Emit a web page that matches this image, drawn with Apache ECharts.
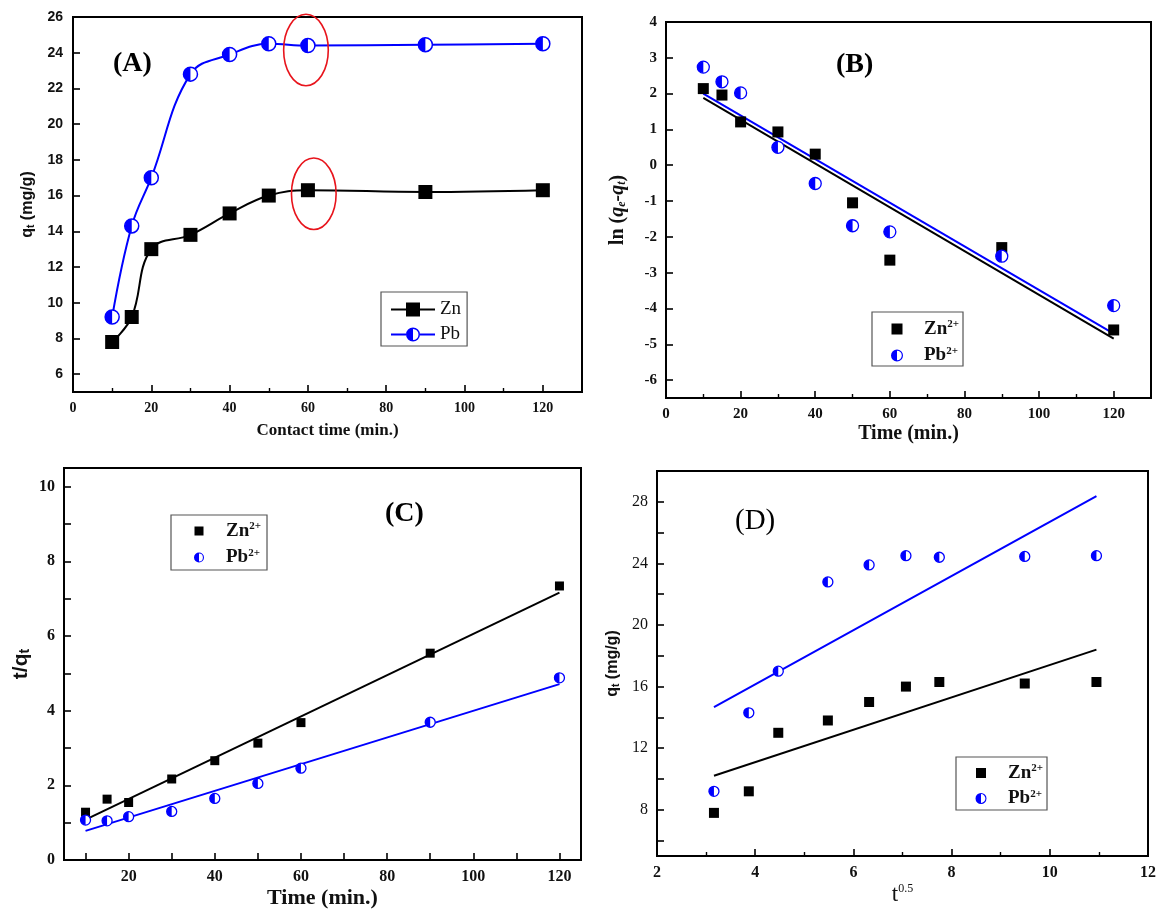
<!DOCTYPE html>
<html>
<head>
<meta charset="utf-8">
<script src="https://cdn.jsdelivr.net/npm/echarts@6/dist/echarts.min.js"></script>
<style>
html, body { margin: 0; padding: 0; background: #fff; }
#chart { width: 1164px; height: 918px; }
</style>
</head>
<body>
<div id="chart"></div>
<script>
// contact time (min) and its square root
var time = [10, 15, 20, 30, 40, 50, 60, 90, 120];
var sqrtTime = [3.16, 3.87, 4.47, 5.48, 6.32, 7.07, 7.75, 9.49, 10.95];

// (A) / (D) adsorbed amount q_t (mg/g)
var qtZn = [7.8, 9.2, 13.0, 13.8, 15.0, 16.0, 16.3, 16.2, 16.3];
var qtPb = [9.2, 14.3, 17.0, 22.8, 23.9, 24.5, 24.4, 24.45, 24.5];

// (B) ln(qe - qt)
var lnZn = [2.14, 1.96, 1.21, 0.93, 0.31, -1.05, -2.65, -2.3, -4.6];
var lnPb = [2.74, 2.33, 2.02, 0.5, -0.51, -1.69, -1.86, -2.54, -3.92];
var fitB_Zn = [[10, 1.88], [120, -4.84]];
var fitB_Pb = [[10, 2.0], [120, -4.7]];

// (C) t/qt
var tqZn = [1.28, 1.63, 1.54, 2.17, 2.66, 3.13, 3.68, 5.54, 7.34];
var tqPb = [1.07, 1.05, 1.16, 1.3, 1.65, 2.05, 2.46, 3.69, 4.88];
var fitC_Zn = [[10, 1.08], [120, 7.16]];
var fitC_Pb = [[10, 0.78], [120, 4.71]];

// (D) intraparticle diffusion fits
var fitD_Zn = [[3.16, 10.21], [10.95, 18.4]];
var fitD_Pb = [[3.16, 14.66], [10.95, 28.37]];

// red ellipses in (A): centre x, centre y, half width, half height
var circlesA = [[59.5, 24.15, 5.7, 2.0], [61.5, 16.1, 5.7, 2.0]];

// tick lists
var ticksAy = [6, 8, 10, 12, 14, 16, 18, 20, 22, 24, 26];
var ticksBy = [-6, -5, -4, -3, -2, -1, 0, 1, 2, 3, 4];
var ticksCx = [10, 20, 30, 40, 50, 60, 70, 80, 90, 100, 110, 120];
var labelsCx = [20, 40, 60, 80, 100, 120];
var ticksCy = [1, 2, 3, 4, 5, 6, 7, 8, 9, 10];
var labelsCy = [0, 2, 4, 6, 8, 10];
var ticksDy = [6, 8, 10, 12, 14, 16, 18, 20, 22, 24, 26, 28];
var labelsDy = [8, 12, 16, 20, 24, 28];

var BLUE = '#0000ff';
var SERIF = 'Liberation Serif';
var SANS = 'Liberation Sans';

function zip(xs, ys) {
    var out = [];
    for (var i = 0; i < xs.length; i++) out.push([xs[i], ys[i]]);
    return out;
}

// left-half filled disk for the Pb markers
var halfPath = 'path://M10,0 A10,10 0 0 0 10,20 Z';

// legend icons: the box corners are marked with empty sub-paths so the
// icon keeps the full item width and the marker sits in its middle
function corners(w, h) {
    return 'M0,0 L0,0 Z M' + w + ',' + h + ' L' + w + ',' + h + ' Z ';
}
function sqIcon(w, h, s) {
    var x = (w - s) / 2, y = (h - s) / 2;
    return 'path://' + corners(w, h) +
        'M' + x + ',' + y + ' h' + s + ' v' + s + ' h' + (-s) + ' Z';
}
function ringHalfBody(cx, cy, R, t) {
    var r = R - t;
    return 'M' + cx + ',' + (cy - R) + ' A' + R + ',' + R + ' 0 1 1 ' + cx + ',' + (cy + R) +
        ' A' + R + ',' + R + ' 0 1 1 ' + cx + ',' + (cy - R) + ' Z ' +
        'M' + cx + ',' + (cy - r) + ' A' + r + ',' + r + ' 0 1 0 ' + cx + ',' + (cy + r) +
        ' A' + r + ',' + r + ' 0 1 0 ' + cx + ',' + (cy - r) + ' Z ' +
        'M' + cx + ',' + (cy - r) + ' A' + r + ',' + r + ' 0 0 0 ' + cx + ',' + (cy + r) + ' Z ';
}
function ringIcon(w, h, R, t) {
    return 'path://' + corners(w, h) + ringHalfBody(w / 2, h / 2, R, t);
}
// (A): line + marker
var lineSquare = 'path://M0,6 H15 V8 H0 Z M15,0 H29 V14 H15 Z M29,6 H44 V8 H29 Z';
var lineRingHalf = 'path://M0,6 H15 V8 H0 Z M29,6 H44 V8 H29 Z ' + ringHalfBody(22, 7, 7, 1.5);

function axis(o) {
    var a = {
        type: 'value',
        gridIndex: o.grid,
        min: o.min,
        max: o.max,
        name: o.name,
        nameLocation: 'middle',
        nameGap: o.nameGap,
        nameTextStyle: o.nameStyle,
        axisLine: { show: true, onZero: false, lineStyle: { color: '#000', width: 2 } },
        axisTick: { inside: true, length: 7, lineStyle: { color: '#000', width: 1.6 } },
        minorTick: { show: !!o.minor, splitNumber: 2, length: 4, lineStyle: { color: '#000', width: 1.4 } },
        splitLine: { show: false },
        axisLabel: {
            margin: o.margin || 9,
            color: '#111',
            fontFamily: o.labelFont || SERIF,
            fontWeight: o.labelWeight || 'bold',
            fontSize: o.labelSize || 14,
            showMaxLabel: o.showMax !== undefined ? o.showMax : true
        }
    };
    if (o.interval) a.interval = o.interval;
    if (o.ticks) a.axisTick.customValues = o.ticks;
    if (o.labels) a.axisLabel.customValues = o.labels;
    return a;
}

function legendBox(o) {
    return {
        left: o.left, top: o.top,
        orient: 'vertical',
        selectedMode: false,
        itemWidth: o.itemWidth, itemHeight: o.itemHeight,
        itemGap: o.itemGap,
        padding: o.padding,
        borderColor: '#555', borderWidth: 1.2,
        itemStyle: { borderWidth: 0, opacity: 1 },
        data: o.data,
        formatter: o.formatter,
        textStyle: {
            color: '#111',
            rich: {
                b: { fontFamily: SERIF, fontWeight: 'bold', fontSize: 19, lineHeight: 20 },
                s: { fontFamily: SERIF, fontWeight: 'bold', fontSize: 11, verticalAlign: 'top', lineHeight: 20 },
                r: { fontFamily: SERIF, fontSize: 19, lineHeight: 18 }
            }
        }
    };
}

function ionLabel(name) {
    return '{b|' + name.slice(0, 2) + '}{s|2+}';
}

function zn(name, grid, data, size) {
    return {
        name: name, type: 'scatter', xAxisIndex: grid, yAxisIndex: grid,
        data: data, symbol: 'rect', symbolSize: size,
        itemStyle: { color: '#000', opacity: 1 }, z: 4, silent: true
    };
}

function pbRing(name, grid, data, size) {
    return {
        name: name, type: 'scatter', xAxisIndex: grid, yAxisIndex: grid,
        data: data, symbol: 'circle', symbolSize: size,
        itemStyle: { color: '#fff', borderColor: BLUE, borderWidth: 1.3, opacity: 1 }, z: 4, silent: true
    };
}

function pbHalf(grid, data, size) {
    return {
        type: 'scatter', xAxisIndex: grid, yAxisIndex: grid,
        data: data, symbol: halfPath, symbolSize: [size / 2, size],
        symbolOffset: [-size / 4, 0], symbolKeepAspect: false,
        itemStyle: { color: BLUE, opacity: 1 }, z: 5, silent: true
    };
}

function fit(grid, data, color) {
    return {
        type: 'line', xAxisIndex: grid, yAxisIndex: grid,
        data: data, symbol: 'none', silent: true, z: 3,
        lineStyle: { color: color, width: 2 }
    };
}

var qName = {
    fontFamily: SANS, fontWeight: 'bold', fontSize: 16, color: '#111',
    rich: {
        q: { fontFamily: SANS, fontWeight: 'bold', fontSize: 16 },
        t: { fontFamily: SANS, fontWeight: 'bold', fontSize: 10, verticalAlign: 'bottom' }
    }
};

var myChart = echarts.init(document.getElementById('chart'));
myChart.setOption({
    animation: false,
    backgroundColor: '#fff',
    title: [
        { text: '(A)', left: 113, top: 50, padding: 0, textStyle: { fontFamily: SERIF, fontWeight: 'bold', fontSize: 28, color: '#000' } },
        { text: '(B)', left: 836, top: 51, padding: 0, textStyle: { fontFamily: SERIF, fontWeight: 'bold', fontSize: 28, color: '#000' } },
        { text: '(C)', left: 385, top: 500, padding: 0, textStyle: { fontFamily: SERIF, fontWeight: 'bold', fontSize: 28, color: '#000' } },
        { text: '(D)', left: 735, top: 507, padding: 0, textStyle: { fontFamily: SERIF, fontWeight: 'normal', fontSize: 29, color: '#000' } }
    ],
    grid: [
        { left: 73, top: 17, width: 509, height: 375, show: true, borderColor: '#000', borderWidth: 2 },
        { left: 666, top: 22, width: 485, height: 376, show: true, borderColor: '#000', borderWidth: 2 },
        { left: 64, top: 468, width: 517, height: 392, show: true, borderColor: '#000', borderWidth: 2 },
        { left: 657, top: 471, width: 491, height: 385, show: true, borderColor: '#000', borderWidth: 2 }
    ],
    xAxis: [
        axis({ grid: 0, min: 0, max: 130, interval: 20, minor: true, showMax: false,
            name: 'Contact time (min.)', nameGap: 30,
            nameStyle: { fontFamily: SERIF, fontWeight: 'bold', fontSize: 17, color: '#111' } }),
        axis({ grid: 1, min: 0, max: 130, interval: 20, minor: true, showMax: false, labelSize: 15,
            name: 'Time (min.)', nameGap: 26,
            nameStyle: { fontFamily: SERIF, fontWeight: 'bold', fontSize: 20, color: '#111' } }),
        axis({ grid: 2, min: 5, max: 125, ticks: ticksCx, labels: labelsCx, labelSize: 16,
            name: 'Time (min.)', nameGap: 27,
            nameStyle: { fontFamily: SERIF, fontWeight: 'bold', fontSize: 22, color: '#111' } }),
        axis({ grid: 3, min: 2, max: 12, interval: 2, minor: true, labelSize: 16,
            name: '{t|t}{s|0.5}', nameGap: 27,
            nameStyle: { color: '#111', rich: {
                t: { fontFamily: SERIF, fontSize: 23, lineHeight: 24 },
                s: { fontFamily: SERIF, fontSize: 12, verticalAlign: 'top', lineHeight: 24 } } } })
    ],
    yAxis: [
        axis({ grid: 0, min: 5, max: 26, ticks: ticksAy, labels: ticksAy,
            labelFont: SANS, labelSize: 14, margin: 10,
            name: '{q|q}{t|t}{q| (mg/g)}', nameGap: 37, nameStyle: qName }),
        axis({ grid: 1, min: -6.5, max: 4, ticks: ticksBy, labels: ticksBy, labelSize: 15,
            name: '{n|ln (}{i|q}{s|e}{i|-q}{s|t}{n|)}', nameGap: 38,
            nameStyle: { color: '#111', rich: {
                n: { fontFamily: SERIF, fontWeight: 'bold', fontSize: 20 },
                i: { fontFamily: SERIF, fontWeight: 'bold', fontStyle: 'italic', fontSize: 20 },
                s: { fontFamily: SERIF, fontWeight: 'bold', fontStyle: 'italic', fontSize: 12, verticalAlign: 'bottom' } } } }),
        axis({ grid: 2, min: 0, max: 10.5, ticks: ticksCy, labels: labelsCy, labelSize: 16,
            name: '{n|t/q}{s|t}', nameGap: 32,
            nameStyle: { color: '#111', rich: {
                n: { fontFamily: SANS, fontWeight: 'bold', fontSize: 21 },
                s: { fontFamily: SANS, fontWeight: 'bold', fontSize: 14, verticalAlign: 'bottom' } } } }),
        axis({ grid: 3, min: 5, max: 30, ticks: ticksDy, labels: labelsDy,
            labelWeight: 'normal', labelSize: 16,
            name: '{q|q}{t|t}{q| (mg/g)}', nameGap: 36, nameStyle: qName })
    ],
    legend: [
        legendBox({ left: 381, top: 292, itemWidth: 44, itemHeight: 14, itemGap: 6, padding: [8, 6, 2, 10],
            data: [
                { name: 'ZnA', icon: lineSquare, itemStyle: { color: '#000' } },
                { name: 'PbA', icon: lineRingHalf, itemStyle: { color: BLUE } }
            ],
            formatter: function (n) { return '{r|' + n.slice(0, 2) + '}'; } }),
        legendBox({ left: 872, top: 312, itemWidth: 44, itemHeight: 12, itemGap: 7, padding: [7, 4, 1, 3],
            data: [
                { name: 'ZnB', icon: sqIcon(44, 12, 11), itemStyle: { color: '#000' } },
                { name: 'PbB', icon: ringIcon(44, 12, 6, 1.2), itemStyle: { color: BLUE } }
            ], formatter: ionLabel }),
        legendBox({ left: 171, top: 515, itemWidth: 44, itemHeight: 10, itemGap: 7, padding: [6, 6, 3, 6],
            data: [
                { name: 'ZnC', icon: sqIcon(44, 10, 9), itemStyle: { color: '#000' } },
                { name: 'PbC', icon: ringIcon(44, 10, 5, 1.1), itemStyle: { color: BLUE } }
            ], formatter: ionLabel }),
        legendBox({ left: 956, top: 757, itemWidth: 44, itemHeight: 11, itemGap: 6, padding: [6, 4, 2, 3],
            data: [
                { name: 'ZnD', icon: sqIcon(44, 11, 10), itemStyle: { color: '#000' } },
                { name: 'PbD', icon: ringIcon(44, 11, 5.5, 1.1), itemStyle: { color: BLUE } }
            ], formatter: ionLabel })
    ],
    series: [
        // (A) kinetics curves
        {
            name: 'ZnA', type: 'line', xAxisIndex: 0, yAxisIndex: 0,
            data: zip(time, qtZn), smooth: 0.4, symbol: 'rect', symbolSize: 14,
            itemStyle: { color: '#000' }, lineStyle: { color: '#000', width: 2 }, z: 3, silent: true
        },
        {
            name: 'PbA', type: 'line', xAxisIndex: 0, yAxisIndex: 0,
            data: zip(time, qtPb), smooth: 0.4, symbol: 'circle', symbolSize: 14,
            itemStyle: { color: '#fff', borderColor: BLUE, borderWidth: 1.5 },
            lineStyle: { color: BLUE, width: 2 }, z: 3, silent: true
        },
        pbHalf(0, zip(time, qtPb), 14),
        {
            type: 'custom', xAxisIndex: 0, yAxisIndex: 0, data: circlesA, silent: true, z: 6,
            encode: { x: 0, y: 1 },
            renderItem: function (params, api) {
                var c = api.coord([api.value(0), api.value(1)]);
                var s = api.size([api.value(2), api.value(3)]);
                return {
                    type: 'ellipse',
                    shape: { cx: c[0], cy: c[1], rx: s[0], ry: s[1] },
                    style: { fill: 'none', stroke: '#e8141c', lineWidth: 1.6 }
                };
            }
        },
        // (B) pseudo-first-order
        fit(1, fitB_Zn, '#000'),
        fit(1, fitB_Pb, BLUE),
        zn('ZnB', 1, zip(time, lnZn), 11),
        pbRing('PbB', 1, zip(time, lnPb), 12),
        pbHalf(1, zip(time, lnPb), 12),
        // (C) pseudo-second-order
        fit(2, fitC_Zn, '#000'),
        fit(2, fitC_Pb, BLUE),
        zn('ZnC', 2, zip(time, tqZn), 9),
        pbRing('PbC', 2, zip(time, tqPb), 10),
        pbHalf(2, zip(time, tqPb), 10),
        // (D) intraparticle diffusion
        fit(3, fitD_Zn, '#000'),
        fit(3, fitD_Pb, BLUE),
        zn('ZnD', 3, zip(sqrtTime, qtZn), 10),
        pbRing('PbD', 3, zip(sqrtTime, qtPb), 10),
        pbHalf(3, zip(sqrtTime, qtPb), 10)
    ]
});
</script>
</body>
</html>
